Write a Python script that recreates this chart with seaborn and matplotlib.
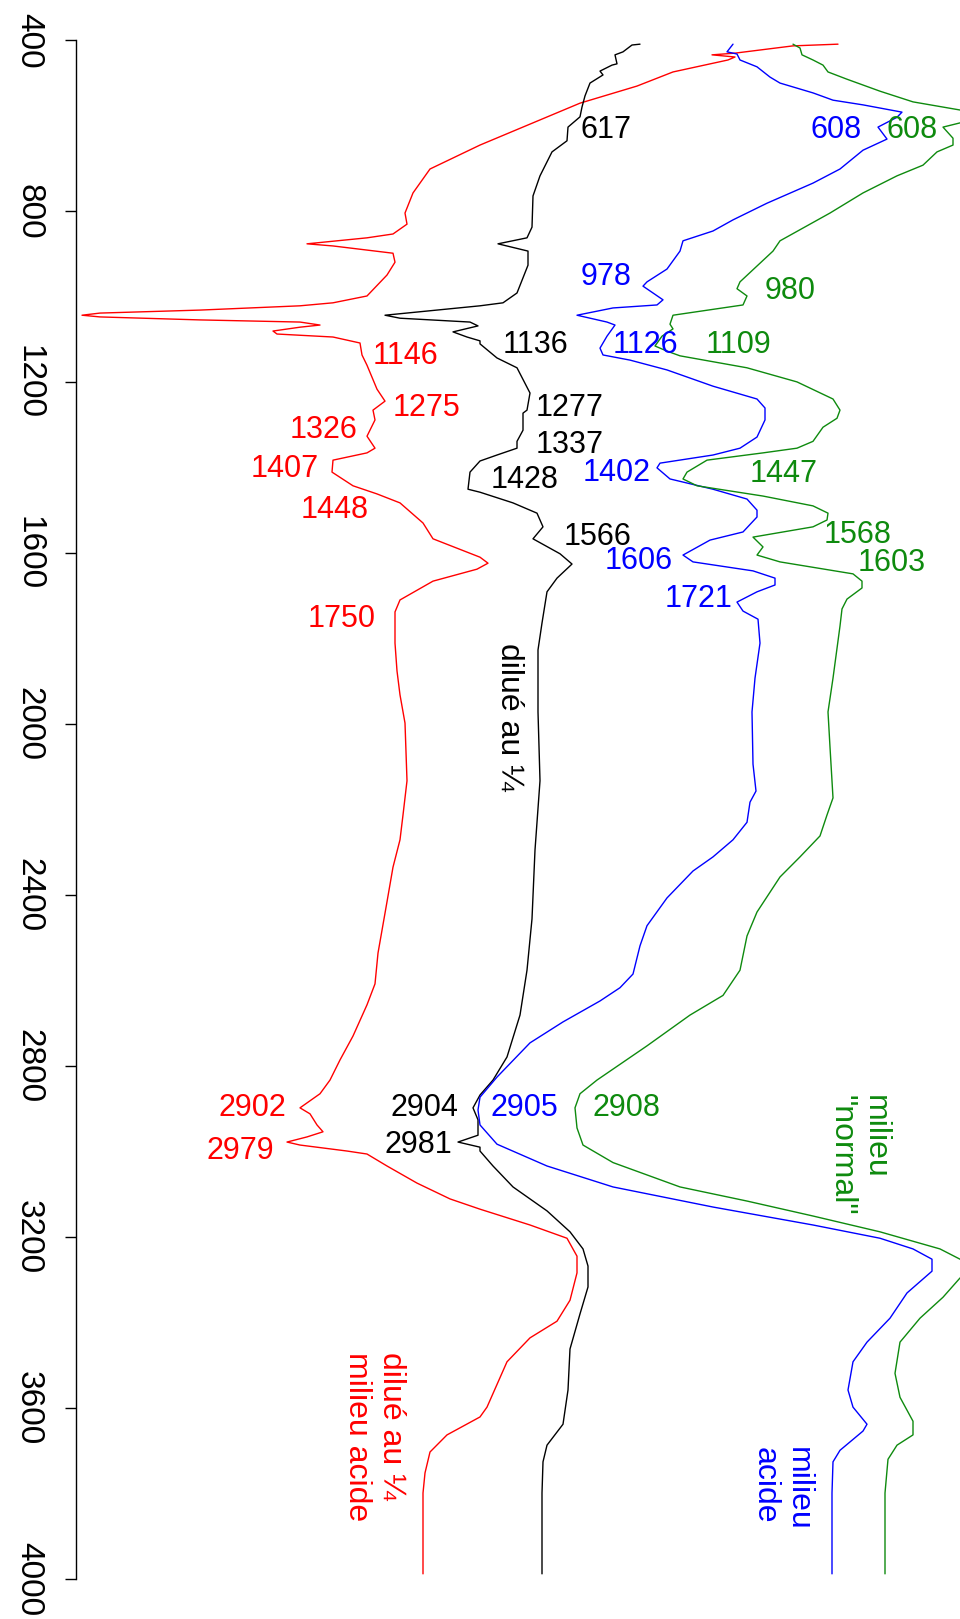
"""
Spectres IR superposés (graphique pivoté) : nombres d'onde sur l'axe vertical
"""

import pandas as pd
import matplotlib
matplotlib.use("Agg")
import matplotlib.pyplot as plt
import seaborn as sns

# ---- spectres (nombre d'onde en cm-1, signal en unités arbitraires) ----
red_wn = [409, 413, 430, 434, 439, 446, 474, 507, 547, 645, 701, 757, 804, 830,
          853, 862, 876, 881, 898, 919, 949, 998, 1014, 1021, 1031, 1038, 1043,
          1047, 1054, 1059, 1066, 1071, 1080, 1087, 1094, 1108, 1136, 1160, 1216,
          1244, 1265, 1288, 1326, 1354, 1365, 1382, 1410, 1442, 1461, 1482, 1529,
          1566, 1609, 1623, 1637, 1665, 1709, 1737, 1810, 1875, 1931, 1997, 2132,
          2212, 2270, 2334, 2415, 2535, 2607, 2656, 2729, 2785, 2832, 2864, 2897,
          2911, 2937, 2953, 2965, 2977, 2984, 2998, 3005, 3033, 3073, 3110, 3134,
          3171, 3202, 3244, 3283, 3347, 3396, 3435, 3491, 3597, 3620, 3662, 3702,
          3751, 3798, 3987]
red_val = [838, 793, 735, 712, 735, 728, 673, 637, 580, 480, 430, 413, 405, 407,
           393, 367, 307, 333, 393, 395, 387, 367, 333, 300, 200, 100, 82,
           100, 200, 300, 320, 300, 273, 277, 333, 360, 362, 367, 377,
           385, 373, 375, 367, 375, 367, 333, 332, 353, 377, 400, 423,
           433, 480, 488, 477, 433, 400, 395, 395, 397, 400, 405, 407,
           403, 400, 393, 387, 378, 375, 367, 353, 340, 330, 320, 300,
           310, 317, 323, 307, 287, 300, 347, 367, 387, 417, 450, 480,
           530, 567, 577, 577, 570, 557, 530, 507, 487, 480, 447, 430,
           425, 423, 423]

black_wn = [409, 411, 427, 434, 455, 458, 472, 481, 500, 530, 556, 579, 603, 635,
            661, 717, 764, 837, 862, 876, 893, 926, 991, 1014, 1021, 1043, 1050,
            1059, 1068, 1082, 1094, 1103, 1110, 1143, 1166, 1225, 1265, 1272, 1312,
            1338, 1354, 1370, 1384, 1410, 1450, 1457, 1482, 1506, 1538, 1566, 1601,
            1625, 1658, 1690, 1763, 1826, 1971, 2132, 2294, 2455, 2575, 2680, 2778,
            2832, 2867, 2897, 2925, 2961, 2977, 2989, 2998, 3033, 3082, 3138, 3187,
            3227, 3267, 3316, 3379, 3461, 3557, 3637, 3686, 3725, 3798, 3987]
black_val = [640, 632, 623, 615, 617, 612, 600, 603, 590, 585, 582, 580, 568, 567,
             552, 540, 533, 532, 527, 498, 528, 528, 517, 503, 480, 385, 400,
             470, 478, 453, 467, 480, 480, 497, 517, 530, 527, 523, 523,
             517, 517, 497, 480, 470, 468, 480, 513, 537, 543, 533, 560,
             572, 557, 547, 542, 538, 538, 540, 535, 532, 527, 520, 507,
             493, 480, 473, 478, 478, 458, 480, 480, 493, 513, 547, 570,
             583, 588, 588, 580, 570, 568, 563, 547, 543, 542, 542]

blue_wn = [409, 418, 427, 432, 446, 462, 486, 500, 523, 540, 551, 568, 580, 603,
           631, 657, 701, 734, 781, 820, 846, 869, 893, 935, 965, 975, 991, 1007,
           1019, 1026, 1043, 1059, 1066, 1092, 1120, 1136, 1148, 1171, 1209, 1239,
           1260, 1288, 1328, 1354, 1370, 1389, 1400, 1426, 1450, 1473, 1499, 1515,
           1550, 1569, 1604, 1620, 1641, 1658, 1674, 1690, 1714, 1735, 1754, 1810,
           1892, 1971, 2093, 2156, 2182, 2229, 2270, 2310, 2343, 2406, 2471, 2518,
           2584, 2616, 2647, 2696, 2745, 2825, 2872, 2902, 2937, 2982, 3033, 3082,
           3129, 3171, 3202, 3227, 3251, 3279, 3330, 3389, 3445, 3491, 3557, 3597,
           3637, 3653, 3698, 3725, 3798, 3987]
blue_val = [733, 730, 727, 737, 740, 757, 770, 780, 813, 833, 863, 902, 897, 878,
            887, 863, 840, 813, 767, 733, 713, 683, 680, 667, 647, 643, 653, 663,
            657, 613, 577, 607, 615, 607, 600, 603, 630, 667, 713, 757,
            765, 765, 757, 740, 713, 660, 657, 670, 713, 747, 757, 757,
            743, 710, 683, 693, 753, 775, 775, 757, 737, 743, 758, 760,
            755, 752, 753, 756, 750, 747, 733, 713, 693, 667, 647, 640,
            633, 620, 600, 563, 530, 497, 480, 478, 480, 497, 547, 613,
            713, 813, 880, 913, 932, 932, 907, 890, 867, 853, 848, 853,
            867, 863, 840, 833, 832, 832]

green_wn = [409, 418, 434, 446, 458, 474, 491, 519, 544, 563, 578, 592, 603, 629,
            645, 661, 692, 717, 757, 804, 869, 893, 965, 981, 998, 1019, 1043,
            1064, 1075, 1092, 1115, 1127, 1138, 1166, 1199, 1239, 1265, 1284, 1305,
            1338, 1354, 1365, 1382, 1410, 1426, 1442, 1466, 1489, 1506, 1522, 1538,
            1562, 1585, 1604, 1620, 1648, 1665, 1681, 1707, 1730, 1770, 1892, 1971,
            2053, 2172, 2212, 2261, 2310, 2357, 2439, 2495, 2575, 2634, 2680, 2752,
            2832, 2864, 2897, 2944, 2984, 3025, 3082, 3115, 3150, 3187, 3227, 3251,
            3270, 3295, 3340, 3389, 3445, 3518, 3574, 3630, 3662, 3686, 3719, 3798,
            3987]
green_val = [793, 800, 802, 813, 823, 828, 847, 880, 913, 960, 985, 962, 943, 953,
             953, 937, 923, 897, 863, 830, 780, 773, 740, 737, 747, 743, 673,
             670, 673, 662, 655, 667, 680, 747, 797, 833, 840, 837, 823,
             813, 797, 763, 707, 687, 683, 697, 763, 813, 828, 827, 813,
             753, 763, 757, 780, 853, 862, 862, 847, 842, 840, 833, 828,
             830, 833, 827, 820, 800, 780, 757, 747, 740, 723, 690, 647,
             597, 580, 575, 577, 583, 613, 680, 747, 813, 880, 940, 960,
             985, 960, 943, 920, 900, 895, 900, 913, 913, 897, 888, 885,
             885]

# ---- étiquettes des bandes ----
red_peaks = ["1146", "1275", "1326", "1407", "1448", "1750", "2902", "2979"]
red_peak_wn = [1138, 1260, 1311, 1403, 1499, 1754, 2897, 2998]
red_peak_x = [373, 393, 290, 251, 301, 308, 218, 206]

black_peaks = ["617", "1136", "1277", "1337", "1428", "1566", "2904", "2981"]
black_peak_wn = [610, 1113, 1260, 1347, 1429, 1562, 2897, 2984]
black_peak_x = [580, 503, 536, 536, 491, 564, 391, 385]

blue_peaks = ["608", "978", "1126", "1402", "1606", "1721", "2905"]
blue_peak_wn = [610, 954, 1113, 1412, 1618, 1707, 2897]
blue_peak_x = [811, 581, 613, 583, 605, 665, 491]

green_peaks = ["608", "980", "1109", "1447", "1568", "1603", "2908"]
green_peak_wn = [610, 986, 1113, 1414, 1557, 1623, 2897]
green_peak_x = [886, 765, 706, 750, 824, 858, 593]

# noms des échantillons (texte vertical)
series_names = ["dilué au ¼", "dilué au ¼\nmilieu acide", "milieu\nacide", "milieu\n\"normal\""]
series_name_x = [509, 374, 781, 858]
series_name_wn = [1809, 3468, 3690, 2867]

colors = {"noir": "black", "rouge": "#FF0000", "bleu": "#0000FF", "vert": "#0E8A0E"}

# ---- tableau long pour seaborn ----
df = pd.concat([
    pd.DataFrame({"wn": red_wn, "val": red_val, "serie": "rouge"}),
    pd.DataFrame({"wn": black_wn, "val": black_val, "serie": "noir"}),
    pd.DataFrame({"wn": blue_wn, "val": blue_val, "serie": "bleu"}),
    pd.DataFrame({"wn": green_wn, "val": green_val, "serie": "vert"}),
], ignore_index=True)

sns.set_style("white")
plt.rcParams['font.family'] = ['Liberation Sans', 'DejaVu Sans']

fig = plt.figure(figsize=(9.6, 16.19), dpi=100)
ax = fig.add_axes([76 / 960, 0, 1 - 76 / 960, 1])

sns.lineplot(data=df, x="val", y="wn", hue="serie", palette=colors,
             estimator=None, sort=False, orient="y", linewidth=1.0,
             legend=False, ax=ax)

# étiquettes des bandes
for labels, ys, xs, col in [(red_peaks, red_peak_wn, red_peak_x, colors["rouge"]),
                            (black_peaks, black_peak_wn, black_peak_x, colors["noir"]),
                            (blue_peaks, blue_peak_wn, blue_peak_x, colors["bleu"]),
                            (green_peaks, green_peak_wn, green_peak_x, colors["vert"])]:
    for lab, y, x in zip(labels, ys, xs):
        ax.text(x, y, lab, color=col, fontsize=22, ha='left', va='center')

# noms des échantillons
name_colors = [colors["noir"], colors["rouge"], colors["bleu"], colors["vert"]]
for name, x, y, col in zip(series_names, series_name_x, series_name_wn, name_colors):
    ax.text(x, y, name, color=col, fontsize=23, rotation=270,
            ha='center', va='top', multialignment='left', linespacing=1.15)

# axes
ax.set_xlim(76, 960)
ax.set_ylim(4092.6, 305.7)
ax.set_xticks([])
ax.set_yticks(range(400, 4001, 400))
ax.set_xlabel("")
ax.set_ylabel("")
for s in ["top", "right", "bottom"]:
    ax.spines[s].set_visible(False)
ax.spines["left"].set_bounds(400, 4000)
ax.spines["left"].set_linewidth(1.0)
ax.spines["left"].set_color("black")
ax.tick_params(axis='y', length=8, width=1.0, labelsize=24, pad=15,
               left=True, colors="black")
for lab in ax.get_yticklabels():
    lab.set_rotation(270)
    lab.set_va('center')

plt.savefig("out.png", dpi=100, facecolor='white')
plt.close()
